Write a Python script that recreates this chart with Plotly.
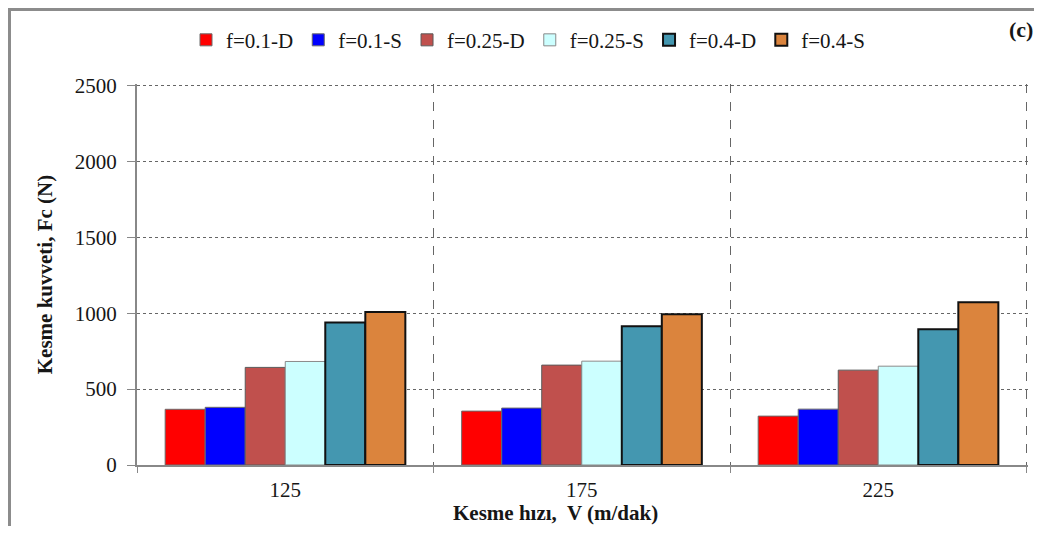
import plotly.graph_objects as go

speeds = ["125", "175", "225"]
series_names = ["f=0.1-D", "f=0.1-S", "f=0.25-D", "f=0.25-S", "f=0.4-D", "f=0.4-S"]
f01_D = [367, 355, 322]
f01_S = [380, 375, 368]
f025_D = [643, 658, 625]
f025_S = [682, 684, 651]
f04_D = [938, 914, 895]
f04_S = [1008, 993, 1072]
y_ticks = [0, 500, 1000, 1500, 2000, 2500]

values = [f01_D, f01_S, f025_D, f025_S, f04_D, f04_S]
fills = ["#FF0000", "#0000FF", "#C0504D", "#CCFFFF", "#4497B0", "#DB843D"]
edges = ["#6a6a6a", "#6a6a6a", "#5a5a5a", "#8a8a8a", "#111111", "#111111"]
edge_w = [1, 1, 1, 1, 2, 2]

FONT = "Liberation Serif"
TXT = "#161616"
fig = go.Figure()
for name, vals, c, ec, ew in zip(series_names, values, fills, edges, edge_w):
    fig.add_trace(go.Bar(x=speeds, y=vals, name=name, marker=dict(color=c, line=dict(color=ec, width=ew))))

fig.update_layout(
    width=1026, height=518,
    margin=dict(l=129, r=6, t=76, b=61),
    paper_bgcolor="white", plot_bgcolor="white",
    barmode="group", bargap=0.19, bargroupgap=0,
    font=dict(family=FONT, size=21, color=TXT),
    showlegend=True,
    legend=dict(orientation="h", x=0.055, xanchor="left", y=1.115, yanchor="middle",
                font=dict(family=FONT, size=21, color=TXT), traceorder="normal",
                itemwidth=30, tracegroupgap=0),
    xaxis=dict(type="category", tickson="boundaries", showgrid=True, gridcolor="#666666",
               griddash="dash", gridwidth=1, showline=True, linecolor="#888888", linewidth=2,
               ticks="outside", ticklen=6, tickcolor="#888888", ticklabelstandoff=5,
               tickfont=dict(family=FONT, size=21, color=TXT), range=[-0.5, 2.505]),
    yaxis=dict(range=[0, 2510], tickvals=y_ticks, showgrid=True, gridcolor="#666666",
               griddash="dot", gridwidth=1, showline=True, linecolor="#888888", linewidth=2,
               ticks="outside", ticklen=8, tickcolor="#888888", zeroline=False,
               ticklabelstandoff=6,
               tickfont=dict(family=FONT, size=21, color=TXT),
               title=dict(text="<b>Kesme kuvveti, Fc (N)</b>", font=dict(family=FONT, size=21, color=TXT), standoff=16)),
    annotations=[
        dict(text="<b>Kesme hızı,  V (m/dak)</b>", xref="paper", yref="paper", x=0.47, y=-0.125,
             xanchor="center", yanchor="middle", showarrow=False, font=dict(family=FONT, size=21, color=TXT)),
        dict(text="<b>(c)</b>", xref="paper", yref="paper", x=0.992, y=1.142,
             xanchor="center", yanchor="middle", showarrow=False, font=dict(family=FONT, size=22, color=TXT)),
    ],
    shapes=[dict(type="rect", xref="paper", yref="paper", x0=-0.1431, y0=-0.5, x1=1.2, y1=1.1955,
                 line=dict(color="#8c8c8c", width=3), fillcolor="rgba(0,0,0,0)", layer="below")],
)

fig.write_html("out.html")
